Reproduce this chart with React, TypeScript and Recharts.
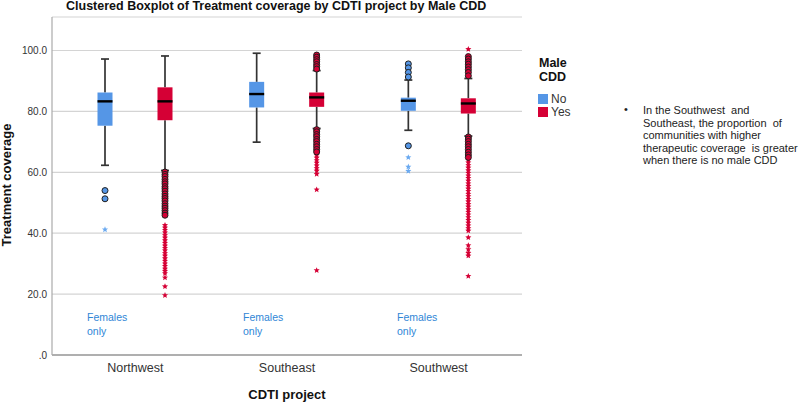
import React from "react";
import { BarChart, Bar, XAxis, YAxis, CartesianGrid } from "recharts";

const categories = ["Northwest", "Southeast", "Southwest"];
const yTicks = [0, 20, 40, 60, 80, 100];

// Male CDD = No
const noMin = [62.3, 69.9, 73.8];
const noQ1 = [75.3, 81.3, 80.2];
const noMedian = [83.3, 85.7, 83.5];
const noQ3 = [86.2, 89.7, 84.5];
const noMax = [97.2, 99.1, 90.3];
const noCircles = [[54.0, 51.3], [], [95.6, 94.3, 92.8, 91.3, 68.7]];
const noStars = [[41.2], [], [64.9, 61.8, 60.4]];

// Male CDD = Yes
const yesMin = [60.6, 74.4, 71.9];
const yesQ1 = [77.1, 81.5, 79.3];
const yesMedian = [83.3, 84.6, 82.6];
const yesQ3 = [87.9, 86.2, 84.3];
const yesMax = [98.2, 93.4, 90.8];
const yesCircles = [
  [60.1, 59.3, 58.6, 57.7, 56.9, 56.2, 55.3, 54.6, 53.8, 52.9, 52.1, 51.4, 50.6, 49.7, 48.9, 48.2, 47.4, 46.6, 45.9],
  [98.5, 97.8, 97.0, 96.3, 95.4, 94.7, 93.9, 74.0, 73.3, 72.4, 71.7, 70.8, 70.1, 69.2, 68.4, 67.5, 66.7],
  [98.0, 97.2, 96.3, 95.5, 94.6, 93.7, 92.8, 91.7, 71.6, 70.9, 70.1, 69.2, 68.4, 67.5, 66.6, 65.7, 64.9],
];
const yesStars = [
  [42.6, 41.8, 41.0, 40.2, 39.3, 38.5, 37.6, 36.8, 35.9, 35.1, 34.3, 33.4, 32.6, 31.7, 30.9, 30.0, 29.2, 28.3, 27.6, 26.8, 25.4, 22.5, 19.6],
  [65.6, 64.8, 63.9, 63.1, 62.2, 61.3, 60.5, 59.4, 54.3, 27.8],
  [100.4, 64.0, 63.2, 62.3, 61.5, 60.6, 59.8, 58.9, 58.1, 57.2, 56.3, 55.5, 54.6, 53.8, 52.9, 52.1, 51.2, 50.4, 49.5, 48.7, 47.8, 47.0, 46.1, 45.2, 44.3, 43.4, 42.5, 41.6, 40.8, 38.6, 36.0, 34.7, 33.5, 32.6, 25.9],
];

const BLUE = "#5596e6";
const RED = "#d50035";

const data = categories.map((c, i) => ({
  category: c,
  idx: i,
  noBox: [noQ1[i], noQ3[i]],
  yesBox: [yesQ1[i], yesQ3[i]],
}));

const groups: any = {
  no: { min: noMin, q1: noQ1, med: noMedian, q3: noQ3, max: noMax, circles: noCircles, stars: noStars, color: BLUE, starColor: "#6aa9f0" },
  yes: { min: yesMin, q1: yesQ1, med: yesMedian, q3: yesQ3, max: yesMax, circles: yesCircles, stars: yesStars, color: RED, starColor: RED },
};

function starPath(cx: number, cy: number, r: number) {
  const pts: string[] = [];
  for (let k = 0; k < 10; k++) {
    const rr = k % 2 === 0 ? r : r * 0.45;
    const a = -Math.PI / 2 + (k * Math.PI) / 5;
    pts.push(`${(cx + rr * Math.cos(a)).toFixed(2)},${(cy + rr * Math.sin(a)).toFixed(2)}`);
  }
  return "M" + pts.join("L") + "Z";
}

const makeShape = (key: string) => (props: any) => {
  const { x, y, width, height, payload } = props;
  const g = groups[key];
  const i = payload.idx;
  const q1 = g.q1[i];
  const q3 = g.q3[i];
  const top = Math.min(y, y + height);
  const h = Math.abs(height);
  const ppu = h / (q3 - q1);
  const py = (v: number) => top + (q3 - v) * ppu;
  const cx = x + width / 2;
  const cap = 4;
  const wc = "#333";
  return (
    <g>
      <line x1={cx} x2={cx} y1={py(g.max[i])} y2={py(q3)} stroke={wc} strokeWidth={1.7} />
      <line x1={cx} x2={cx} y1={py(q1)} y2={py(g.min[i])} stroke={wc} strokeWidth={1.7} />
      <line x1={cx - cap} x2={cx + cap} y1={py(g.max[i])} y2={py(g.max[i])} stroke={wc} strokeWidth={1.7} />
      <line x1={cx - cap} x2={cx + cap} y1={py(g.min[i])} y2={py(g.min[i])} stroke={wc} strokeWidth={1.7} />
      <rect x={x} y={top} width={width} height={h} fill={g.color} />
      <line x1={x} x2={x + width} y1={py(g.med[i])} y2={py(g.med[i])} stroke="#000" strokeWidth={2.4} />
      {g.stars[i].map((v: number, k: number) => (
        <path key={"s" + k} d={starPath(cx, py(v), 3.2)} fill={g.starColor} />
      ))}
      {g.circles[i].map((v: number, k: number) => (
        <circle key={"c" + k} cx={cx} cy={py(v)} r={3} fill={g.color} stroke="#1f1f1f" strokeWidth={1} />
      ))}
    </g>
  );
};

const fontA = "'Liberation Sans', Arial, sans-serif";

export default function App() {
  return (
    <div style={{ position: "absolute", left: 0, top: 0, width: 800, height: 403, background: "#fff", fontFamily: fontA, overflow: "hidden" }}>
      <BarChart
        width={800}
        height={403}
        data={data}
        margin={{ top: 17, right: 278, bottom: 28, left: 0 }}
        barGap={45}
      >
        <CartesianGrid vertical={false} stroke="#d4d4d4" strokeWidth={1.2} />
        <XAxis
          dataKey="category"
          height={20}
          padding={{ left: 7.5, right: 7.5 }}
          tickLine={false}
          tickSize={0}
          tickMargin={8}
          axisLine={{ stroke: "#777", strokeWidth: 1.2 }}
          tick={{ fill: "#333", fontSize: 12.5, fontFamily: fontA }}
        />
        <YAxis
          width={52}
          domain={[0, 111]}
          ticks={yTicks}
          allowDataOverflow
          tickLine={false}
          tickSize={0}
          tickMargin={5}
          axisLine={{ stroke: "#aaa", strokeWidth: 1.2 }}
          tick={{ fill: "#333", fontSize: 10, fontFamily: fontA }}
          tickFormatter={(v: number) => (v === 0 ? ".0" : v.toFixed(1))}
        />
        <Bar dataKey="noBox" barSize={15} fill={BLUE} isAnimationActive={false} shape={makeShape("no")} />
        <Bar dataKey="yesBox" barSize={15} fill={RED} isAnimationActive={false} shape={makeShape("yes")} />
      </BarChart>

      <div style={{ position: "absolute", left: 66, top: 0, fontSize: 12.5, lineHeight: "12px", fontWeight: "bold", color: "#111", whiteSpace: "nowrap" }}>
        Clustered Boxplot of Treatment coverage by CDTI project by Male CDD
      </div>
      <div style={{ position: "absolute", left: -93, top: 177, width: 200, textAlign: "center", lineHeight: "16px", fontSize: 13, fontWeight: "bold", color: "#111", transform: "rotate(-90deg)", whiteSpace: "nowrap" }}>
        Treatment coverage
      </div>
      <div style={{ position: "absolute", left: 187, top: 387, width: 200, textAlign: "center", lineHeight: "16px", fontSize: 13, fontWeight: "bold", color: "#111" }}>
        CDTI project
      </div>

      {[87, 243, 397].map((lx, k) => (
        <div key={k} style={{ position: "absolute", left: lx, top: 310, fontSize: 10.5, lineHeight: "14px", color: "#2f86d6" }}>
          Females<br />only
        </div>
      ))}

      <div style={{ position: "absolute", left: 539, top: 57, fontSize: 12.5, fontWeight: "bold", lineHeight: "13.5px", color: "#111" }}>
        Male<br />CDD
      </div>
      <div style={{ position: "absolute", left: 538, top: 94, width: 10, height: 10, background: BLUE }} />
      <div style={{ position: "absolute", left: 551, top: 92, fontSize: 12, lineHeight: "14px", color: "#333" }}>No</div>
      <div style={{ position: "absolute", left: 538, top: 107, width: 10, height: 10, background: RED }} />
      <div style={{ position: "absolute", left: 551, top: 105, fontSize: 12, lineHeight: "14px", color: "#333" }}>Yes</div>

      <div style={{ position: "absolute", left: 624, top: 103, fontSize: 11, lineHeight: "12.5px", color: "#222" }}>•</div>
      <div style={{ position: "absolute", left: 643, top: 104, fontSize: 11, lineHeight: "12.5px", color: "#222", whiteSpace: "nowrap" }}>
        In the Southwest&nbsp; and<br />
        Southeast, the proportion&nbsp; of<br />
        communities with higher<br />
        therapeutic coverage&nbsp; is greater<br />
        when there is no male CDD
      </div>
    </div>
  );
}
